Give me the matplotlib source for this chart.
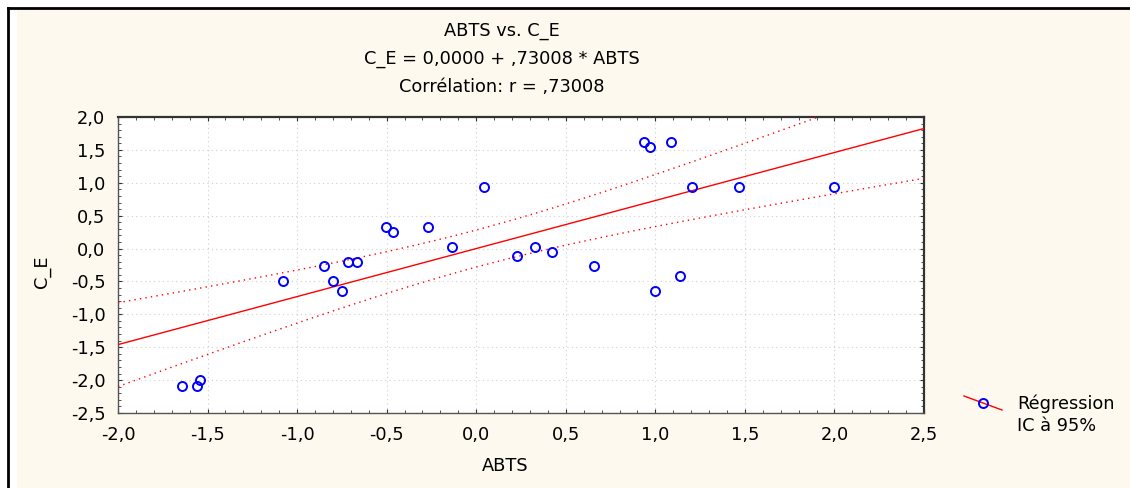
import numpy as np
import matplotlib
matplotlib.use("Agg")
import matplotlib.pyplot as plt
from matplotlib.lines import Line2D
from matplotlib.patches import Rectangle
from matplotlib.ticker import MultipleLocator, FuncFormatter

plt.rcParams['font.family'] = ['DejaVu Sans']

# data (standardized values)
abts = [-1.644, -1.560, -1.542, -1.080, -0.848, -0.798, -0.748, -0.718, -0.666,
        -0.504, -0.466, -0.269, -0.137, 0.044, 0.226, 0.328, 0.425, 0.656,
        0.937, 0.972, 1.088, 1.000, 1.138, 1.203, 1.467, 1.996]
c_e = [-2.086, -2.086, -2.000, -0.495, -0.268, -0.495, -0.647, -0.197, -0.197,
       0.333, 0.258, 0.333, 0.030, 0.935, -0.117, 0.030, -0.045, -0.268,
       1.616, 1.545, 1.616, -0.647, -0.420, 0.935, 0.935, 0.935]

intercept = 0.0
slope = 0.73008
t_crit = 2.064  # t(0.975, df=24)

title_lines = ["ABTS vs. C_E", "C_E = 0,0000 + ,73008 * ABTS", "Corrélation: r = ,73008"]

W, H = 1130, 488
FS = 12.8
fig = plt.figure(figsize=(W / 100, H / 100), dpi=100)
fig.patch.set_facecolor('white')

cream = '#FEF9EE'
fig.add_artist(Rectangle((17 / W, 0), 1, 1 - 9 / H, transform=fig.transFigure,
                         facecolor=cream, edgecolor='none', zorder=-2))
fig.add_artist(Line2D([8 / W, 8 / W], [0, 1 - 7.5 / H], transform=fig.transFigure,
                      color='black', lw=2))
fig.add_artist(Line2D([8 / W, 1], [1 - 7.5 / H, 1 - 7.5 / H], transform=fig.transFigure,
                      color='black', lw=2))

ax = fig.add_axes([118 / W, 1 - 413 / H, (924 - 118) / W, (413 - 117) / H])
ax.set_facecolor('white')

x = np.array(abts)
y = np.array(c_e)
n = len(x)

xs = np.linspace(-2.0, 2.5, 300)
fit = intercept + slope * xs
resid = y - (intercept + slope * x)
s = np.sqrt(np.sum(resid ** 2) / (n - 2))
sxx = np.sum((x - x.mean()) ** 2)
half = t_crit * s * np.sqrt(1 / n + (xs - x.mean()) ** 2 / sxx)

ax.plot(xs, fit, color='red', lw=1.0, zorder=3)
ax.plot(xs, fit + half, color='red', lw=1.0, ls=(0, (1, 3)), zorder=3)
ax.plot(xs, fit - half, color='red', lw=1.0, ls=(0, (1, 3)), zorder=3)
ax.plot(x, y, ls='none', marker='o', ms=6.5, mfc='none', mec='blue', mew=1.4, zorder=4)

ax.set_xlim(-2.0, 2.5)
ax.set_ylim(-2.5, 2.0)
ax.xaxis.set_major_locator(MultipleLocator(0.5))
ax.yaxis.set_major_locator(MultipleLocator(0.5))
ax.xaxis.set_minor_locator(MultipleLocator(0.1))
ax.yaxis.set_minor_locator(MultipleLocator(0.1))
fmt = FuncFormatter(lambda v, p: ('%.1f' % v).replace('.', ',').replace('-0,0', '0,0'))
ax.xaxis.set_major_formatter(fmt)
ax.yaxis.set_major_formatter(fmt)
ax.tick_params(which='both', direction='in', top=True, right=True, labelsize=FS, color='#333333')
ax.tick_params(which='major', length=3, width=0.8)
ax.tick_params(which='minor', length=2, width=0.6)
ax.tick_params(axis='x', pad=9)
ax.tick_params(axis='y', pad=9)
ax.grid(True, which='major', ls=(0, (1, 3)), color='#cfcfcf', lw=0.8)
for side in ['left', 'bottom']:
    ax.spines[side].set_color('#555555')
    ax.spines[side].set_linewidth(1.0)
for side in ['top', 'right']:
    ax.spines[side].set_color('#333333')
    ax.spines[side].set_linewidth(1.6)

# titles and axis labels
for i, line in enumerate(title_lines):
    fig.text(502 / W, 1 - (31 + 28 * i) / H, line, ha='center', va='center', fontsize=FS)
fig.text(505 / W, 1 - 466 / H, "ABTS", ha='center', va='center', fontsize=FS)
fig.text(42 / W, 1 - 272 / H, "C_E", ha='center', va='center', rotation=90, fontsize=FS)

# legend
fig.add_artist(Line2D([964 / W, 1002 / W], [1 - 396 / H, 1 - 410 / H], transform=fig.transFigure,
                      color='red', lw=1.0))
fig.add_artist(Line2D([983 / W], [1 - 403 / H], transform=fig.transFigure, ls='none',
                      marker='o', ms=6.5, mfc='none', mec='blue', mew=1.4))
fig.text(1017 / W, 1 - 404 / H, "Régression", ha='left', va='center', fontsize=FS)
fig.text(1017 / W, 1 - 426 / H, "IC à 95%", ha='left', va='center', fontsize=FS)

fig.savefig('out.png', dpi=100, facecolor=fig.get_facecolor())
